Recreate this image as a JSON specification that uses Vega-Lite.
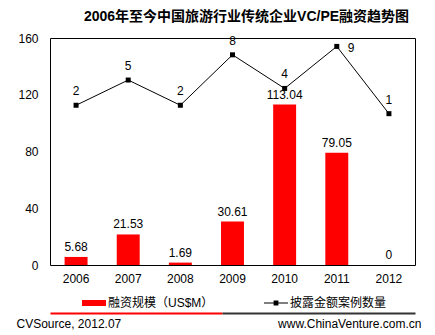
{
  "$schema": "https://vega.github.io/schema/vega-lite/v6.json",
  "width": 365,
  "height": 227,
  "autosize": {"type": "none"},
  "padding": {"left": 50, "top": 38, "right": 20, "bottom": 70},
  "background": "white",
  "title": {
    "text": "2006年至今中国旅游行业传统企业VC/PE融资趋势图",
    "fontSize": 14,
    "fontWeight": "bold",
    "anchor": "middle",
    "dx": 14,
    "offset": 8,
    "color": "black",
    "font": "Liberation Sans, Noto Sans CJK SC"
  },
  "data": {
    "values": [
      {"year": "2006", "amount": 5.68, "count": 2},
      {"year": "2007", "amount": 21.53, "count": 5},
      {"year": "2008", "amount": 1.69, "count": 2},
      {"year": "2009", "amount": 30.61, "count": 8},
      {"year": "2010", "amount": 113.04, "count": 4},
      {"year": "2011", "amount": 79.05, "count": 9},
      {"year": "2012", "amount": 0, "count": 1}
    ]
  },
  "layer": [
    {
      "encoding": {
        "x": {
          "field": "year",
          "type": "ordinal",
          "scale": {"paddingInner": 0.56, "paddingOuter": 0.28},
          "axis": {
            "title": "CVSource, 2012.07",
            "labelPadding": 8,
            "ticks": false,
            "domain": false,
            "labelAngle": 0,
            "titleX": -34,
            "titleY": 58,
            "titleAlign": "left",
            "titleAnchor": null,
            "titleBaseline": "middle",
            "titleFontWeight": "normal",
            "titleFontSize": 12
          }
        },
        "y": {
          "field": "amount",
          "type": "quantitative",
          "scale": {"domain": [0, 160]},
          "axis": {
            "values": [0, 40, 80, 120, 160],
            "title": null,
            "grid": false,
            "ticks": false,
            "domain": false,
            "labelPadding": 12
          }
        }
      },
      "layer": [
        {
          "mark": {"type": "bar"},
          "encoding": {
            "color": {
              "datum": "融资规模（US$M）",
              "scale": {
                "domain": ["融资规模（US$M）", "披露金额案例数量"],
                "range": ["#ff0000", "#000000"]
              },
              "legend": {
                "orient": "none",
                "legendX": 32,
                "legendY": 253,
                "direction": "horizontal",
                "title": null,
                "padding": 0,
                "symbolSize": 576,
                "symbolStrokeWidth": 0,
                "labelFontSize": 12,
                "labelOffset": 2,
                "columnPadding": 50,
                "labelLimit": 300,
                "labelColor": "black",
                "encode": {
                  "symbols": {
                    "update": {
                      "shape": {"signal": "datum.value === '融资规模（US$M）' ? 'M-1,-0.25H1V0.25H-1Z' : 'M-1,-0.045H1V0.045H-1ZM-0.2,-0.2H0.2V0.2H-0.2Z'"},
                      "fill": {"signal": "datum.value === '融资规模（US$M）' ? '#ff0000' : '#000000'"},
                      "stroke": {"value": "transparent"},
                      "opacity": {"value": 1}
                    }
                  }
                }
              }
            }
          }
        },
        {
          "mark": {"type": "text", "dy": -6, "baseline": "alphabetic", "fontSize": 12, "color": "black"},
          "encoding": {
            "text": {"field": "amount", "type": "quantitative"}
          }
        }
      ]
    },
    {
      "mark": {"type": "line", "strokeWidth": 1, "point": {"shape": "square", "size": 25, "filled": true}},
      "encoding": {
        "x": {
          "field": "year",
          "type": "ordinal",
          "scale": {"paddingInner": 0.56, "paddingOuter": 0.28},
          "axis": {
            "orient": "bottom",
            "offset": 48,
            "labels": false,
            "ticks": false,
            "title": null,
            "domain": true,
            "domainWidth": 2,
            "domainColor": "#ff0000",
            "domainDash": [172, 1000]
          }
        },
        "y": {
          "field": "count",
          "type": "quantitative",
          "scale": {"domain": [-17, 10]},
          "axis": {
            "orient": "right",
            "labels": false,
            "ticks": false,
            "domain": false,
            "grid": false,
            "title": "www.ChinaVenture.com.cn",
            "titleAngle": 0,
            "titleX": 6,
            "titleY": 285,
            "titleAlign": "right",
            "titleAnchor": null,
            "titleBaseline": "middle",
            "titleFontWeight": "normal",
            "titleFontSize": 12
          }
        },
        "color": {"datum": "披露金额案例数量"}
      }
    },
    {
      "encoding": {
        "x": {
          "field": "year",
          "type": "ordinal",
          "scale": {"paddingInner": 0.56, "paddingOuter": 0.28},
          "axis": {
            "orient": "bottom",
            "offset": 48,
            "labels": false,
            "ticks": false,
            "title": null,
            "domain": true,
            "domainWidth": 2,
            "domainColor": "#333333",
            "domainDash": [0, 172, 400]
          }
        },
        "y": {
          "field": "count",
          "type": "quantitative",
          "scale": {"domain": [-17, 10]},
          "axis": null
        }
      },
      "layer": [
        {
          "transform": [{"filter": "datum.year != '2011'"}],
          "mark": {"type": "text", "dy": -10, "baseline": "alphabetic", "fontSize": 12, "color": "black"},
          "encoding": {
            "text": {"field": "count", "type": "quantitative"}
          }
        },
        {
          "transform": [{"filter": "datum.year == '2011'"}],
          "mark": {"type": "text", "dx": 11, "dy": 2, "align": "left", "baseline": "middle", "fontSize": 12, "color": "black"},
          "encoding": {
            "text": {"field": "count", "type": "quantitative"}
          }
        }
      ]
    }
  ],
  "resolve": {"scale": {"y": "independent"}, "axis": {"x": "independent"}},
  "config": {
    "font": "Liberation Sans, Noto Sans CJK SC",
    "view": {"stroke": "black", "strokeWidth": 1},
    "axis": {
      "labelFontSize": 12,
      "labelColor": "black",
      "titleColor": "black",
      "labelFont": "Liberation Sans, Noto Sans CJK SC",
      "titleFont": "Liberation Sans, Noto Sans CJK SC"
    },
    "legend": {"labelFont": "Liberation Sans, Noto Sans CJK SC"}
  }
}
